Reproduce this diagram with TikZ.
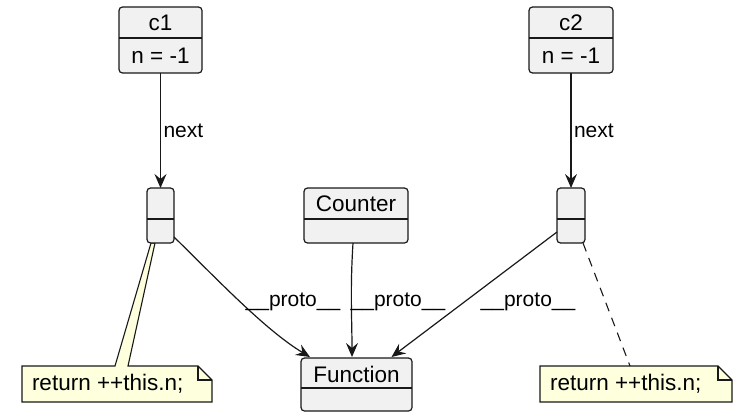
\documentclass[tikz,border=0pt]{standalone}
\usepackage{fontspec}
\setmainfont{Liberation Sans}
\usetikzlibrary{arrows.meta,calc,backgrounds}
\definecolor{boxfill}{HTML}{F1F1F1}
\definecolor{ink}{HTML}{181818}
\definecolor{notefill}{HTML}{FEFFDD}

\begin{document}
\begin{tikzpicture}[x=1pt,y=-1pt,
  every node/.style={font=\fontsize{22.5}{26}\selectfont, text=black, inner sep=0pt, outer sep=0pt},
  classbox/.style={draw=ink, fill=boxfill, rounded corners=3.5pt, line width=1.2pt},
  divider/.style={draw=ink, line width=1.2pt},
  link/.style={draw=ink, line width=1.2pt, -{Stealth[length=14pt,width=12pt,inset=5pt]}},
  notebox/.style={minimum width=#1, minimum height=36pt},
  noteshape/.style={draw=ink, fill=notefill, line width=1.1pt, line join=miter},
  lbl/.style={font=\fontsize{21}{24}\selectfont},
]
\path[use as bounding box] (0,0) rectangle (741,412);

% object c1
\node[classbox, minimum width=83pt, minimum height=66pt] (c1) at (160.5,40) {};
\node (c1t) at (160.5,23) {c1};
\draw[divider] (c1.west |- 0,38) -- (c1.east |- 0,38);
\node (c1n) at (160.5,56) {n = -1};

% object c2
\node[classbox, minimum width=84pt, minimum height=66pt] (c2) at (571,40) {};
\node (c2t) at (571,23) {c2};
\draw[divider] (c2.west |- 0,38) -- (c2.east |- 0,38);
\node (c2n) at (571,56) {n = -1};

% anonymous objects
\node[classbox, minimum width=27pt, minimum height=55pt] (s1) at (160.5,215.5) {};
\draw[divider] (s1.west |- 0,219) -- (s1.east |- 0,219);
\node[classbox, minimum width=28pt, minimum height=55pt] (s2) at (571,215.5) {};
\draw[divider] (s2.west |- 0,219) -- (s2.east |- 0,219);

% Counter
\node[classbox, minimum width=104pt, minimum height=55pt] (cnt) at (356,215.5) {};
\node (cntt) at (356,204) {Counter};
\draw[divider] (cnt.west |- 0,219) -- (cnt.east |- 0,219);

% Function
\node[classbox, minimum width=111pt, minimum height=53pt] (fn) at (356.5,384.5) {};
\node (fnt) at (356.5,374) {Function};
\draw[divider] (fn.west |- 0,388) -- (fn.east |- 0,388);

% next links
\draw[link] (c1) -- node[lbl, right=3pt] (nx1) {next} (s1);
\draw[link] (c2) -- node[lbl, right=3pt] (nx2) {next} (s2);

% __proto__ links
\draw[link] (s1.east |- 0,237) .. controls (215,277) and (265,330) .. ($(fn.north west)+(9,-1)$);
\draw[link] ($(cnt.south)+(-3,0)$) .. controls (350,290) and (352,320) .. ($(fn.north)+(-4.5,-1)$);
\draw[link] (s2.west |- 0,232) -- ($(fn.north)+(35,-1)$);
\node[lbl] (p1) at (293,302) {\_\_proto\_\_};
\node[lbl] (p2) at (398,302) {\_\_proto\_\_};
\node[lbl] (p3) at (528,302) {\_\_proto\_\_};

% notes
\node[notebox=190pt] (n1) at (117,384) {};
\node[anchor=west] (n1t) at ($(n1.west)+(10,0)$) {return ++this.n;};
\node[notebox=192pt] (n2) at (636,384) {};
\node[anchor=west] (n2t) at ($(n2.west)+(10,0)$) {return ++this.n;};

\begin{scope}[on background layer]
  \path[noteshape] (n1.north west) -- ($(n1.north west)+(93,0)$)
    -- ($(s1.south)+(-9.5,0)$) -- ($(s1.south)+(-5.5,0)$)
    -- ($(n1.north west)+(106,0)$) -- ($(n1.north east)+(-14,0)$)
    -- ($(n1.north east)+(0,14)$) -- (n1.south east) -- (n1.south west) -- cycle;
  \path[noteshape] (n2.north west) -- ($(n2.north east)+(-14,0)$)
    -- ($(n2.north east)+(0,14)$) -- (n2.south east) -- (n2.south west) -- cycle;
\end{scope}
\draw[ink, line width=1.1pt] ($(n1.north east)+(-14,0)$) -- ($(n1.north east)+(-14,14)$) -- ($(n1.north east)+(0,14)$);
\draw[ink, line width=1.1pt] ($(n2.north east)+(-14,0)$) -- ($(n2.north east)+(-14,14)$) -- ($(n2.north east)+(0,14)$);
\draw[ink, line width=1.1pt, dash pattern=on 9pt off 7pt] ($(s2.south east)+(-2,0)$) -- ($(n2.north west)+(90,0)$);
\end{tikzpicture}
\end{document}
